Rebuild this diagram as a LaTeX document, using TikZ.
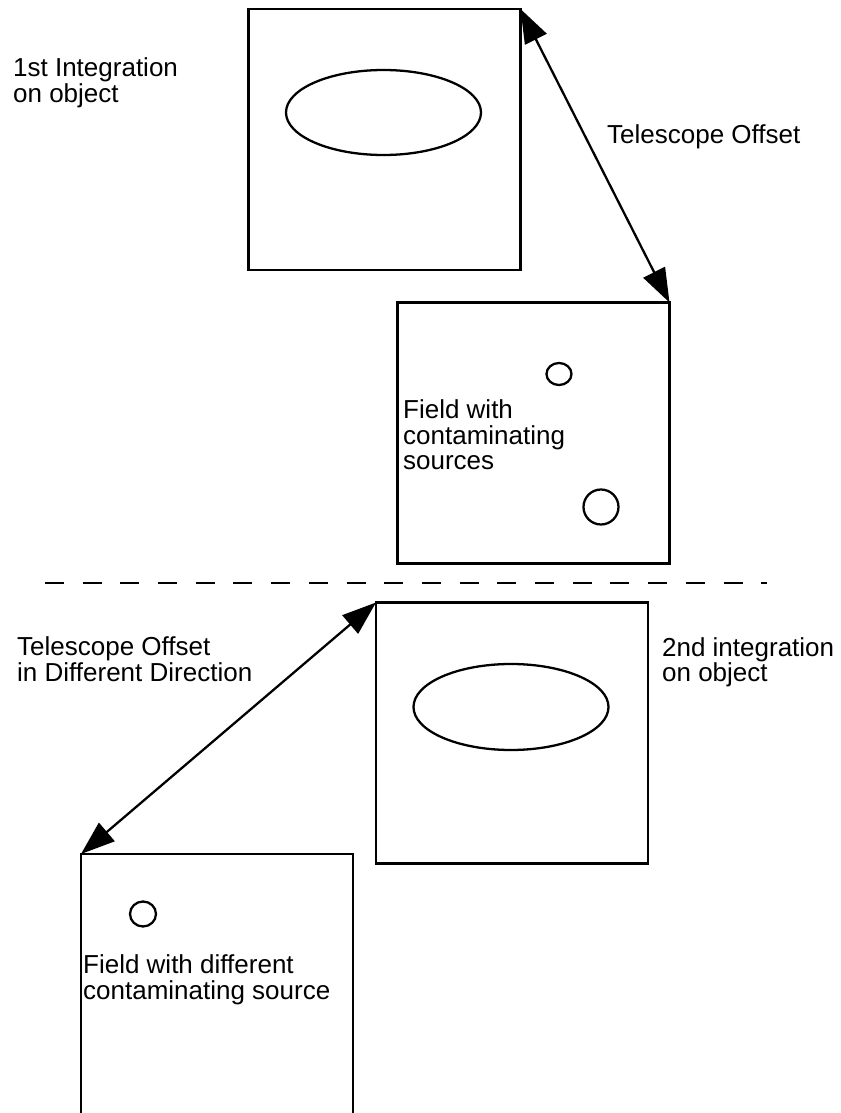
\documentclass[tikz,border=0pt]{standalone}
\usepackage{fontspec}
\setmainfont{Liberation Sans}
\usetikzlibrary{shapes, arrows.meta}

\begin{document}
\begin{tikzpicture}[line width=0.65pt,
    frame/.style={draw, minimum width=2.72cm, minimum height=2.61cm, inner sep=0pt, outer sep=0pt},
    src/.style={draw, ellipse, inner sep=0pt, outer sep=0pt},
    lbl/.style={anchor=base west, align=left, inner sep=0pt, font=\fontsize{7.4}{7.3}\selectfont},
    offs/.style={{Triangle[length=0.34cm, width=0.24cm]}-{Triangle[length=0.34cm, width=0.24cm]}}]
  \useasboundingbox (0,0) rectangle (8.41,11.13);
  \clip (0,0) rectangle (8.41,11.13);
  \node[frame] (obj1) at (3.845,9.735) {};
  \node[frame] (fld1) at (5.335,6.80) {};
  \node[frame] (obj2) at (5.12,3.80) {};
  \node[frame] (fld2) at (2.17,1.285) {};
  \node[src, minimum width=1.95cm, minimum height=0.85cm] (gal1) at (3.835,10.005) {};
  \node[src, minimum width=1.95cm, minimum height=0.86cm] (gal2) at (5.11,4.06) {};
  \node[src, minimum width=0.25cm, minimum height=0.22cm] (s1) at (5.59,7.39) {};
  \node[src, minimum width=0.35cm, minimum height=0.35cm] (s2) at (6.01,6.06) {};
  \node[src, minimum width=0.26cm, minimum height=0.25cm] (s3) at (1.43,1.99) {};
  \coordinate (cutL) at (0.45,5.30);
  \coordinate (cutR) at (7.67,5.30);
  \draw[dash pattern=on 0.19cm off 0.187cm] (cutL) -- (cutR);
  \draw[offs] (obj1.north east) -- (fld1.north east);
  \draw[offs] (obj2.north west) -- (fld2.north west);
  \node[lbl] (t1) at (0.12,10.11) {1st Integration\\on object};
  \node[lbl] (t2) at (6.06,9.69) {Telescope Offset};
  \node[lbl] (t3) at (4.02,6.43) {Field with\\contaminating\\sources};
  \node[lbl] (t4) at (0.16,4.32) {Telescope Offset\\in Different Direction};
  \node[lbl] (t5) at (6.61,4.31) {2nd integration\\on object};
  \node[lbl] (t6) at (0.82,1.14) {Field with different\\contaminating source};
\end{tikzpicture}
\end{document}
